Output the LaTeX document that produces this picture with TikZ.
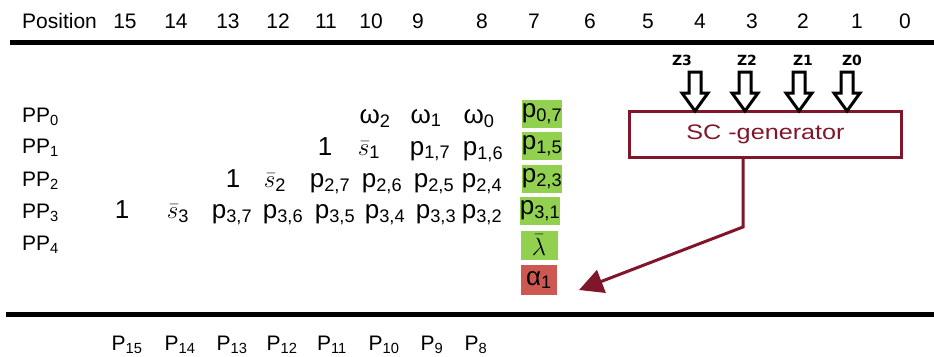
\documentclass[tikz,border=0pt]{standalone}
\usepackage{fontspec}
\setmainfont{Liberation Sans}
\newfontfamily\zfont{DejaVu Sans}
\usetikzlibrary{arrows.meta}
\definecolor{scred}{RGB}{128,22,42}
\definecolor{cellgreen}{RGB}{146,208,80}
\definecolor{cellred}{RGB}{205,88,82}
\begin{document}
\begin{tikzpicture}[x=1pt,y=-1pt,
	hdr/.style={font=\fontsize{21}{24}\selectfont,anchor=base,inner sep=0},
	pp/.style={font=\fontsize{21}{24}\selectfont,anchor=base west,inner sep=0},
	ent/.style={font=\fontsize{26}{30}\selectfont,anchor=base,inner sep=0},
	cell/.style={fill=cellgreen,minimum width=40,minimum height=28,inner sep=0,font=\fontsize{26}{30}\selectfont},
	zlab/.style={font=\zfont\bfseries\fontsize{14}{16}\selectfont,inner sep=0},
	hollow/.style={draw=black,line width=3pt,fill=white,line join=miter},
	rule/.style={line width=5pt}]
	\useasboundingbox (0,0) rectangle (934,356);
	\node[hdr,anchor=base west] (poslabel) at (22,28) {Position};
	\foreach \n/\x in {15/125,14/176,13/228,12/278,11/326,10/371,9/418,8/482,7/534,6/590,5/648,4/700,3/752,2/803,1/857,0/905}
		\node[hdr] (pos\n) at (\x,28) {\n};
	\draw[rule] (10,42) -- (934,42);
	\draw[rule] (6,314) -- (934,314);
	\foreach \i/\y in {0/122,1/153,2/186,3/218,4/250}
		\node[pp] (pp\i) at (22,\y) {PP\textsubscript{\i}};
	\foreach \x/\t/\nm in {375/{ω\textsubscript{2}}/w2,426/{ω\textsubscript{1}}/w1,479/{ω\textsubscript{0}}/w0}
		\node[ent] (\nm) at (\x,123) {\t};
	\foreach \x/\t/\nm in {325/1/onea,369/{$\bar{s}$\textsubscript{1}}/s1,430/{p\textsubscript{1,7}}/p17,483/{p\textsubscript{1,6}}/p16}
		\node[ent] (\nm) at (\x,155) {\t};
	\foreach \x/\t/\nm in {233/1/oneb,275/{$\bar{s}$\textsubscript{2}}/s2,330/{p\textsubscript{2,7}}/p27,382/{p\textsubscript{2,6}}/p26,434/{p\textsubscript{2,5}}/p25,482/{p\textsubscript{2,4}}/p24}
		\node[ent] (\nm) at (\x,187) {\t};
	\foreach \x/\t/\nm in {122/1/onec,178/{$\bar{s}$\textsubscript{3}}/s3,232/{p\textsubscript{3,7}}/p37,283/{p\textsubscript{3,6}}/p36,335/{p\textsubscript{3,5}}/p35,385/{p\textsubscript{3,4}}/p34,436/{p\textsubscript{3,3}}/p33,482/{p\textsubscript{3,2}}/p32}
		\node[ent] (\nm) at (\x,218) {\t};
	\node[cell] (p07) at (542,114) {p\textsubscript{0,7}};
	\node[cell] (p15) at (542,146) {p\textsubscript{1,5}};
	\node[cell] (p23) at (542,178.5) {p\textsubscript{2,3}};
	\node[cell] (p31) at (540,210.5) {p\textsubscript{3,1}};
	\node[cell,minimum width=37,minimum height=29] (lam) at (539,245) {$\bar{\lambda}$};
	\node[cell,fill=cellred,minimum width=36,minimum height=30] (a1) at (539,280) {α\textsubscript{1}};
	\node[draw=scred,line width=3pt,minimum width=272,minimum height=46,text=scred,font=\fontsize{21}{24}\selectfont] (sc) at (765.5,134) {\scalebox{1.2}[1]{SC -generator}};
	\foreach \n/\lx/\ax in {3/682/695,2/747/745,1/803/799,0/852/847}{
		\node[zlab] (z\n) at (\lx,60) {Z\n};
		\draw[hollow] (\ax-6,72) -- (\ax-6,93) -- (\ax-13,93) -- (\ax,111) -- (\ax+13,93) -- (\ax+6,93) -- (\ax+6,72) -- cycle;
	}
	\coordinate (bend) at (743,227);
	\coordinate (tip) at (579,290);
	\draw[scred,line width=3pt,-{Triangle[length=24pt,width=24pt]}] (sc.south -| bend) -- (bend) -- (tip);
	\foreach \n/\x in {15/127,14/180,13/232,12/282,11/332,10/384,9/432,8/476}
		\node[hdr] (b\n) at (\x,350) {P\textsubscript{\n}};
\end{tikzpicture}
\end{document}
